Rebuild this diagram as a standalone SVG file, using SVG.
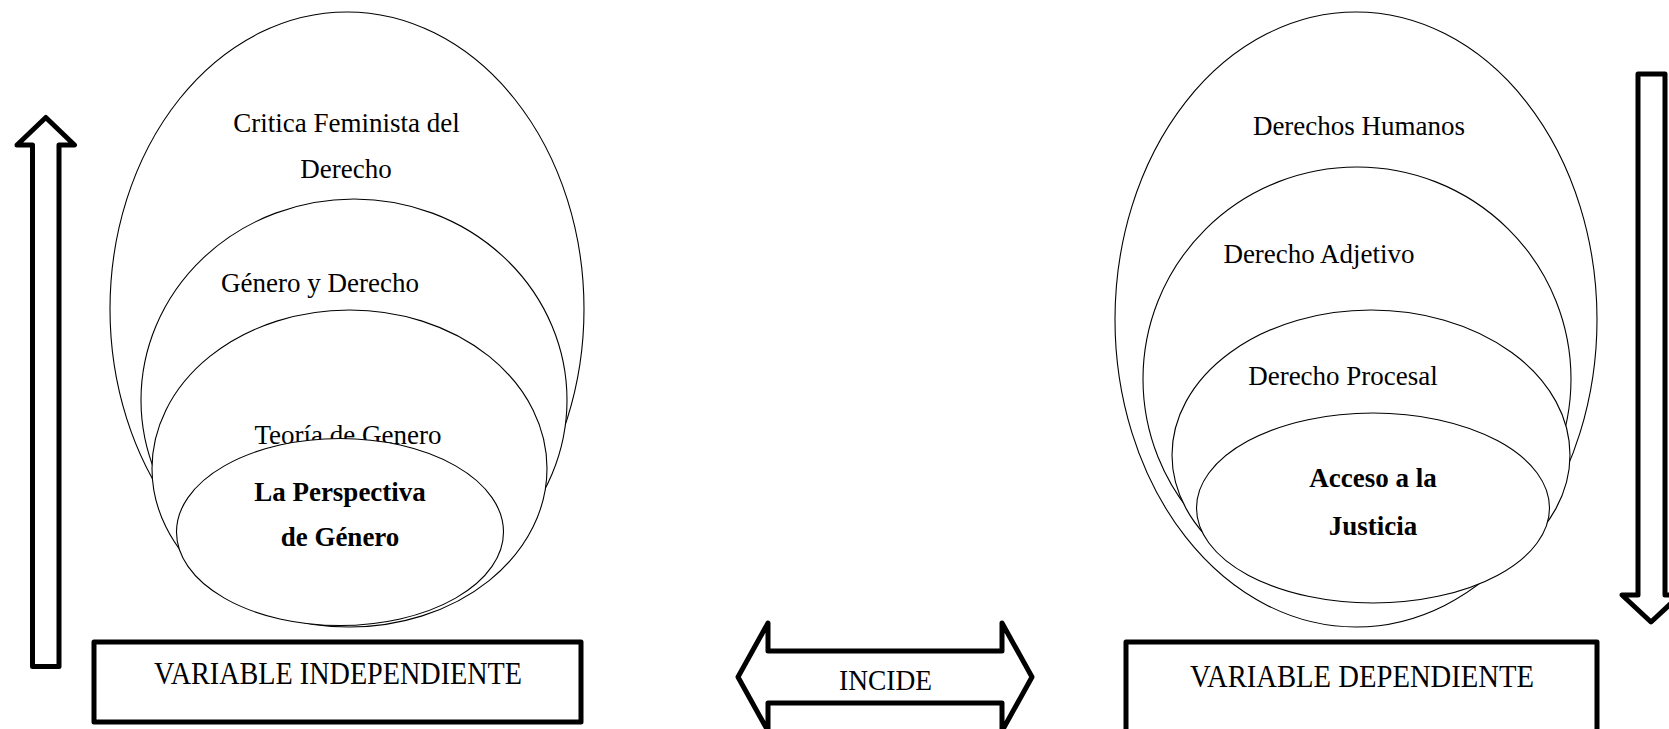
<svg xmlns="http://www.w3.org/2000/svg" width="1669" height="729" viewBox="0 0 1669 729">
<style>
.e{fill:#fff;stroke:#000;stroke-width:1.1}
.t{font-family:"Liberation Serif","Times New Roman",serif;font-size:27px;fill:#000;text-anchor:middle}
.b{font-weight:bold}
.k{fill:#fff;stroke:#000;stroke-width:5;stroke-linejoin:round}
.v{font-family:"Liberation Serif","Times New Roman",serif;font-size:31px;fill:#000}
</style>
<rect width="1669" height="729" fill="#fff"/>
<g id="left-set">
  <g id="critica">
    <ellipse class="e" cx="347" cy="309" rx="237" ry="297"/>
    <text class="t" x="346.5" y="132">Critica Feminista del</text>
    <text class="t" x="346" y="178">Derecho</text>
  </g>
  <g id="genero-derecho">
    <ellipse class="e" cx="354" cy="400" rx="213" ry="201"/>
    <text class="t" x="320" y="291.5">Género y Derecho</text>
  </g>
  <g id="teoria">
    <ellipse class="e" cx="349.5" cy="468.5" rx="197.5" ry="158.5"/>
    <text class="t" x="348" y="444">Teoría de Genero</text>
  </g>
  <g id="perspectiva">
    <ellipse class="e" cx="340" cy="532" rx="163.5" ry="93.5"/>
    <text class="t b" x="340" y="500.5">La Perspectiva</text>
    <text class="t b" x="340" y="545.5">de Género</text>
  </g>
</g>
<g id="right-set">
  <g id="ddhh">
    <ellipse class="e" cx="1356" cy="319.5" rx="241" ry="307.5"/>
    <text class="t" x="1359" y="135">Derechos Humanos</text>
  </g>
  <g id="adjetivo">
    <ellipse class="e" cx="1357" cy="379" rx="214" ry="212"/>
    <text class="t" x="1319" y="263">Derecho Adjetivo</text>
  </g>
  <g id="procesal">
    <ellipse class="e" cx="1371" cy="455" rx="199" ry="145"/>
    <text class="t" x="1343" y="385">Derecho Procesal</text>
  </g>
  <g id="acceso">
    <ellipse class="e" cx="1373" cy="508" rx="176.5" ry="95"/>
    <text class="t b" x="1373" y="487">Acceso a la</text>
    <text class="t b" x="1373" y="535">Justicia</text>
  </g>
</g>
<g id="var-independiente">
  <rect class="k" x="94" y="642" width="487" height="80"/>
  <text class="v" x="154" y="684" textLength="368" lengthAdjust="spacingAndGlyphs">VARIABLE INDEPENDIENTE</text>
</g>
<g id="var-dependiente">
  <rect class="k" x="1126" y="642" width="471" height="110"/>
  <text class="v" x="1190" y="686.5" textLength="344" lengthAdjust="spacingAndGlyphs">VARIABLE DEPENDIENTE</text>
</g>
<g id="connectors">
  <polygon id="arrow-up" class="k" points="32.5,666.5 32.5,145 17,145 45.8,117.5 74.5,145 59,145 59,666.5"/>
  <polygon id="arrow-down" class="k" points="1638,74 1638,595 1622,595 1651,622 1680,595 1665,595 1665,74"/>
  <g id="incide">
    <polygon class="k" points="738,677 768,623 768,651 1002,651 1002,623 1032,677 1002,731 1002,703 768,703 768,731"/>
    <text class="v" x="839" y="690" textLength="93" lengthAdjust="spacingAndGlyphs" style="font-size:29px">INCIDE</text>
  </g>
</g>
</svg>
